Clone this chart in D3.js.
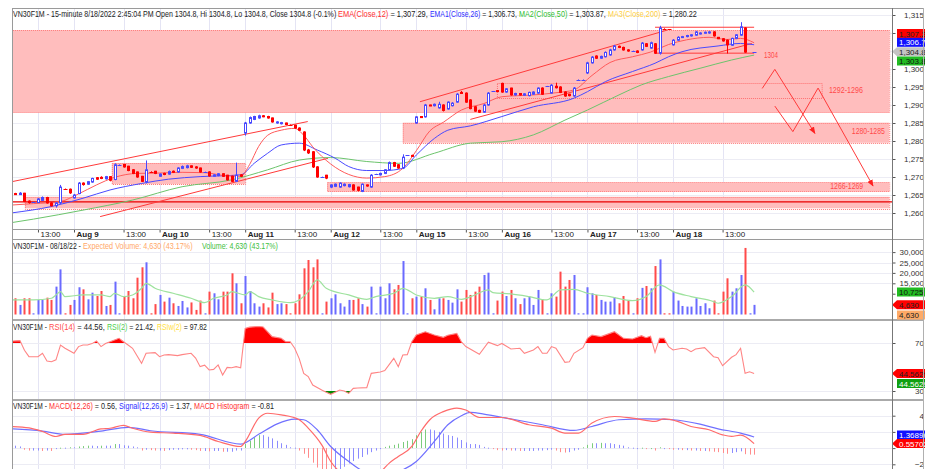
<!DOCTYPE html>
<html><head><meta charset="utf-8">
<script src="https://cdn.jsdelivr.net/npm/d3@7"></script>
<style>
html,body{margin:0;padding:0;background:#fff;overflow:hidden;}
svg{display:block;font-family:"Liberation Sans",Arial,sans-serif;}
</style></head><body>
<svg id="c" width="930" height="469"></svg>
<script>
// ---------------- DATA ----------------
const symbol = "VN30F1M";
const days = ["Aug 8","Aug 9","Aug 10","Aug 11","Aug 12","Aug 15","Aug 16","Aug 17","Aug 18"];
const barsPerDay = 19;
const sessionLabel = "13:00";
const sessionSlot = 11;
const firstSlot = 5;

// [open, high, low, close] per 15-minute slot, from slot 5 (Aug 8) to slot 170 (Aug 18 14:45)
const ohlc = [
 // Aug 8
 [1265.0,1265.6,1264.8,1265.4],[1265.4,1265.6,1265.0,1265.1],[1265.1,1265.8,1265.0,1265.5],[1265.5,1265.6,1263.0,1263.2],
 [1263.3,1263.5,1262.6,1262.9],[1263.0,1263.1,1262.9,1263.0],[1262.9,1264.2,1262.8,1263.9],[1263.5,1264.6,1263.4,1264.3],
 [1264.3,1264.5,1262.6,1262.8],[1262.8,1263.0,1261.8,1262.0],[1262.0,1263.0,1261.5,1262.8],[1262.8,1267.8,1262.5,1267.2],
 [1266.6,1266.8,1266.5,1266.6],[1266.6,1266.8,1265.3,1265.6],
 // Aug 9
 [1264.2,1265.3,1264.0,1265.0],[1265.4,1268.6,1265.2,1268.3],[1268.3,1268.5,1267.6,1267.9],[1268.0,1268.9,1267.8,1268.7],
 [1268.6,1269.8,1268.4,1269.6],[1269.8,1270.0,1269.2,1269.4],[1269.9,1270.2,1269.4,1269.6],[1269.5,1270.3,1269.3,1270.1],
 [1270.1,1270.2,1268.8,1269.1],[1269.3,1273.8,1269.1,1273.4],[1273.4,1273.5,1273.3,1273.4],[1273.5,1273.6,1272.6,1272.8],
 [1273.0,1273.1,1271.6,1271.8],[1272.0,1272.2,1270.8,1271.0],[1271.4,1271.5,1269.8,1270.0],[1270.2,1270.3,1268.6,1268.8],
 [1268.6,1274.6,1268.2,1272.0],[1271.5,1271.6,1271.4,1271.5],[1271.6,1271.7,1270.8,1271.0],
 // Aug 10
 [1270.2,1271.0,1270.0,1270.8],[1271.0,1271.2,1270.5,1270.7],[1270.8,1271.8,1270.6,1271.5],[1271.6,1271.8,1271.1,1271.3],
 [1271.4,1272.7,1271.2,1272.5],[1272.4,1273.2,1272.2,1272.9],[1272.6,1273.4,1272.4,1273.1],[1273.1,1273.2,1272.5,1272.7],
 [1272.8,1273.0,1272.3,1272.5],[1272.5,1272.6,1271.2,1271.4],[1271.4,1271.5,1271.3,1271.4],[1271.4,1271.6,1270.1,1270.3],
 [1270.2,1270.8,1270.0,1270.6],[1270.4,1271.1,1270.2,1270.9],[1270.9,1271.0,1270.0,1270.2],[1270.5,1270.6,1269.0,1269.2],
 [1270.2,1270.4,1268.6,1268.8],[1268.8,1274.0,1268.6,1270.5],[1270.6,1270.8,1270.0,1270.2],
 // Aug 11
 [1282.2,1285.3,1281.5,1285.0],[1285.0,1286.8,1284.8,1286.5],[1286.0,1287.0,1285.8,1286.8],[1286.4,1287.3,1286.2,1287.0],
 [1287.0,1287.2,1286.6,1286.8],[1286.8,1287.0,1286.2,1286.4],[1286.4,1286.5,1285.1,1285.3],[1285.0,1285.5,1284.8,1285.3],
 [1284.8,1285.3,1284.6,1285.1],[1285.0,1285.1,1284.4,1284.6],[1284.5,1284.6,1284.4,1284.5],[1284.4,1284.5,1283.4,1283.6],
 [1283.6,1283.8,1282.8,1283.0],[1282.5,1282.7,1277.2,1277.5],[1277.5,1277.8,1276.4,1276.7],[1277.0,1277.2,1272.5,1272.8],
 [1272.8,1273.0,1269.8,1270.0],[1270.0,1270.1,1269.9,1270.0],[1270.5,1270.6,1269.4,1269.7],
 // Aug 12
 [1267.2,1268.0,1266.9,1267.8],[1267.4,1268.2,1267.2,1268.0],[1267.2,1268.5,1267.0,1268.3],[1267.6,1268.2,1267.4,1268.0],
 [1267.3,1268.1,1267.1,1267.9],[1267.8,1268.0,1266.2,1266.4],[1267.2,1267.3,1266.0,1266.3],[1266.0,1268.2,1265.8,1268.0],
 [1267.8,1267.9,1267.3,1267.5],[1267.2,1270.8,1267.0,1270.5],[1270.8,1270.9,1270.7,1270.8],[1270.6,1271.2,1270.4,1271.0],
 [1271.0,1272.2,1270.8,1272.0],[1272.0,1274.3,1271.8,1274.0],[1274.0,1274.2,1272.8,1273.0],[1273.4,1273.6,1272.3,1272.5],
 [1272.5,1276.3,1272.2,1275.5],[1276.0,1276.1,1275.9,1276.0],[1276.0,1276.2,1275.6,1275.8],
 // Aug 15
 [1285.0,1286.9,1284.8,1286.7],[1286.8,1286.9,1286.4,1286.5],[1286.7,1290.3,1286.5,1290.0],[1290.0,1290.1,1289.7,1289.8],
 [1289.8,1290.4,1289.6,1290.2],[1289.2,1290.9,1289.0,1290.2],[1290.0,1290.2,1288.2,1288.5],[1288.9,1291.0,1288.7,1290.8],
 [1289.8,1290.8,1289.6,1290.5],[1290.8,1293.3,1290.6,1293.0],[1293.5,1293.9,1293.1,1293.2],[1293.3,1293.5,1290.6,1290.8],
 [1291.4,1291.6,1288.8,1289.0],[1289.5,1289.7,1288.1,1288.3],[1288.5,1288.7,1287.8,1288.0],[1288.0,1290.3,1287.8,1290.0],
 [1290.0,1293.6,1289.8,1293.3],[1293.8,1293.9,1293.7,1293.8],[1294.0,1294.1,1293.6,1293.8],
 // Aug 16
 [1296.0,1296.2,1293.4,1293.6],[1293.6,1294.7,1293.4,1294.5],[1294.7,1294.8,1292.6,1292.8],[1292.8,1293.4,1292.6,1293.2],
 [1293.2,1293.3,1292.6,1292.8],[1292.7,1293.3,1292.5,1293.1],[1292.6,1293.7,1292.4,1293.5],[1293.0,1293.8,1292.8,1293.6],
 [1293.3,1294.9,1293.1,1294.7],[1294.7,1294.9,1292.8,1293.0],[1295.2,1295.3,1295.1,1295.2],[1293.3,1295.8,1293.1,1295.5],
 [1295.2,1296.2,1294.6,1294.8],[1295.0,1295.2,1293.3,1293.5],[1293.6,1293.8,1292.3,1292.5],[1293.0,1293.1,1292.4,1292.6],
 [1292.5,1295.0,1292.3,1294.7],[1297.0,1297.1,1296.9,1297.0],[1297.0,1297.1,1296.9,1297.0],
 // Aug 17
 [1298.9,1302.0,1298.6,1301.7],[1301.7,1303.6,1301.5,1303.3],[1303.6,1303.8,1302.8,1303.0],[1303.0,1303.7,1302.8,1303.5],
 [1303.4,1304.9,1303.2,1304.6],[1303.9,1305.6,1303.7,1305.3],[1305.3,1306.7,1305.1,1306.4],[1306.3,1306.5,1305.8,1306.0],
 [1306.0,1306.2,1305.1,1305.3],[1305.3,1305.5,1304.8,1305.0],[1305.0,1305.1,1304.9,1305.0],[1305.0,1305.2,1304.4,1304.6],
 [1305.3,1307.5,1305.1,1307.2],[1307.0,1307.2,1306.1,1306.3],[1305.8,1307.6,1305.6,1307.3],[1307.0,1307.2,1304.2,1304.4],
 [1304.4,1312.0,1304.0,1311.4],[1311.2,1311.3,1311.1,1311.2],[1311.0,1311.1,1310.9,1311.0],
 // Aug 18
 [1306.7,1308.3,1306.5,1308.0],[1308.0,1309.1,1307.8,1308.8],[1308.8,1309.2,1308.6,1309.0],[1309.0,1309.5,1308.8,1309.3],
 [1309.2,1309.7,1309.0,1309.5],[1309.4,1310.6,1309.2,1310.3],[1309.8,1310.2,1309.6,1310.0],[1310.0,1310.4,1309.8,1310.2],
 [1310.0,1310.5,1309.8,1310.3],[1310.3,1310.5,1309.0,1309.2],[1308.8,1308.9,1308.3,1308.4],[1308.4,1308.6,1307.6,1307.8],
 [1308.0,1308.2,1304.3,1306.7],[1306.6,1308.7,1306.4,1308.5],[1308.5,1309.7,1308.3,1309.5],[1309.4,1313.0,1309.2,1311.7],
 [1311.4,1311.6,1304.5,1304.7],null,[1304.8,1304.8,1304.8,1304.8]
];

// volume per slot, from slot 5 to slot 170
const volume = [
 4600,7800,4600,7800,7800,500,7000,7000,8100,7000,13400,21700,500,4600,
 7000,13100,12100,7300,10500,8900,11300,4100,4600,15800,500,8900,11300,7800,17700,22700,25100,500,5000,
 9400,6200,8100,5400,4100,6500,3400,5800,2200,6700,500,11000,10200,7300,11000,11000,19800,15000,5400,
 18500,11300,5400,3800,5400,3400,10500,5000,5400,5000,500,5400,9700,22200,26200,22700,26500,500,6200,
 7800,9700,5400,3800,7000,7000,7800,5000,3800,13400,500,13400,7800,15000,12100,14200,25700,500,7800,
 8600,8600,12600,7000,2500,7800,7800,7000,5700,12100,6200,11800,9400,11000,13400,19000,20100,500,6700,
 11000,8900,11800,7800,5000,7800,8600,4600,11800,7300,500,10200,8600,20600,13400,16600,19000,500,500,
 13100,10200,9400,7000,6200,6200,8300,5400,8900,6700,500,7800,12800,13700,12600,23300,26500,500,500,
 11000,6700,4100,3800,3800,7800,4100,5400,3000,6700,500,11000,17400,11000,12600,19000,32000,300,4630
];

// moving averages: [slot, value]
const ema12 = [[5,1262.2],[10,1262.6],[16,1263.2],[20,1265.3],[24,1267.8],[28,1269.9],[33,1271],[38,1271.1],[43,1271.3],[48,1271.2],[53,1270.3],[56,1270.2],[58,1273.5],[60,1278.5],[62,1281.6],[65,1283],[68,1283.5],[70,1281.6],[72,1278.4],[76,1273.6],[80,1270.7],[84,1269.7],[88,1270.1],[92,1272.4],[95,1277.3],[98,1282.8],[101,1285.2],[105,1288.6],[110,1290.4],[114,1292.3],[121,1292.8],[126,1293.4],[130,1294.2],[134,1298.2],[138,1301.8],[143,1303.4],[147,1304.7],[151,1306.8],[155,1308.1],[160,1308.8],[164,1308.2],[167,1308.5],[170,1307.29]];
const ema26 = [[5,1260],[14,1261.8],[21,1264.1],[27,1266.4],[34,1268.2],[40,1269.4],[47,1270.1],[56,1270.6],[59,1273.8],[62,1276.6],[65,1278.9],[69,1279.4],[73,1277.5],[77,1275.2],[80,1272.9],[84,1271.8],[88,1271.8],[92,1272.4],[95,1276.1],[99,1280.7],[102,1283],[107,1284.2],[114,1286.8],[121,1289.5],[130,1291.9],[133,1293.7],[137,1296.5],[143,1299.3],[148,1301.6],[151,1303.4],[154,1304.8],[162,1306.4],[167,1307.1],[170,1306.73]];
const ma50 = [[5,1257.3],[10,1258.3],[21,1260.8],[32,1263.6],[43,1267.3],[54,1269.2],[62,1272],[69,1274.7],[76,1275.4],[84,1274.3],[91,1273.8],[99,1276.6],[107,1279.4],[114,1279.8],[121,1281.7],[128,1285.8],[133,1288.6],[140,1292.8],[145,1295.6],[151,1297.9],[158,1300.2],[165,1302.5],[170,1303.87]];
const volMA = [[5,7000],[10,7000],[14,7800],[15,9400],[16,11000],[17,8600],[21,9400],[25,9400],[27,8600],[28,10200],[30,8600],[32,9400],[34,12600],[35,15000],[37,12600],[41,10200],[45,7800],[48,5700],[50,7800],[53,9400],[54,11000],[57,9400],[58,11000],[60,8600],[63,7000],[67,5700],[69,7000],[71,11000],[73,16600],[75,12600],[80,9400],[84,7300],[86,8600],[90,10200],[92,12600],[95,9400],[99,7800],[102,8600],[105,7300],[108,9400],[111,11800],[112,10500],[116,9900],[120,8600],[124,7000],[127,11800],[130,12100],[133,10200],[138,8600],[143,6700],[146,8600],[149,14200],[152,11000],[156,8600],[161,6200],[162,5400],[165,8600],[168,14200],[170,10725]];

const rsi14 = [[5,71.5],[7,72],[8,64],[9,58.6],[11,58.6],[12,61.4],[13,55],[14,54.4],[15,56],[16,68.3],[17,65.6],[19,61.4],[20,67],[21,68.3],[22,68.3],[23,69.5],[24,71.7],[25,67],[26,69.5],[28,72.5],[29,73.9],[30,71],[31,68.3],[32,65.6],[34,53],[35,61.4],[37,62],[38,58.6],[39,60],[40,60.3],[42,59.5],[43,60.3],[45,61.4],[46,57.5],[47,50.3],[48,51.5],[49,47.5],[50,48],[51,51.7],[52,43.3],[53,49.7],[54,49.4],[55,50.3],[56,49.4],[57,82.2],[58,83.2],[60,83.8],[61,83.3],[63,75.3],[65,74],[66,71],[67,71],[68,65.6],[69,57],[70,44.7],[71,42],[72,35],[74,30.8],[75,28.9],[76,27.2],[78,30.8],[79,30],[80,28],[81,32.2],[82,32.5],[84,32.8],[85,44.7],[87,45.8],[88,47],[90,57.2],[91,50.3],[92,60],[93,60.3],[94,71],[95,76.7],[97,79.4],[99,76.7],[101,74.7],[102,76.5],[104,78],[105,71],[106,67],[109,60.6],[111,70.6],[113,67.8],[114,69.6],[116,65],[118,65.6],[119,61.4],[121,64.2],[122,67],[123,61.4],[124,61.4],[125,67],[126,65.6],[128,53.9],[129,54.4],[130,61.4],[132,66.1],[133,73.9],[134,76.7],[136,75.3],[139,79.4],[141,73.9],[143,73.3],[145,76.1],[146,74.4],[147,75.6],[148,62.2],[149,73.9],[150,73.9],[151,67],[152,64.2],[154,65.6],[155,65],[156,62.8],[157,65],[159,66.1],[161,58.6],[162,57.8],[163,51.1],[165,58.1],[166,60.3],[167,65.6],[168,44.7],[169,46],[170,44.56]];

const macdLine = [[5,2.67],[9,2.5],[12,2.05],[15,1.43],[17,1.7],[21,1.7],[25,2.38],[27,2.45],[30,2.8],[32,2.45],[36,1.97],[41,1.85],[47,1.56],[51,0.82],[56,0.2],[57,0.8],[60,3.7],[62,4.3],[65,4.1],[69,3.5],[71,2.47],[74,0.4],[76,-1.65],[78,-2.9],[80,-3.4],[84,-3.3],[87,-2.9],[89,-1.85],[91,-1.03],[94,0.2],[96,2.05],[98,3.5],[101,4.5],[104,4.94],[106,4.7],[109,3.78],[114,3.78],[120,2.88],[125,2.47],[128,1.85],[131,1.85],[134,3.09],[139,3.9],[143,3.7],[148,3.3],[150,3.6],[153,3.3],[156,2.67],[160,2.26],[163,1.64],[165,1.44],[167,1.6],[170,0.56]];
const signalLine = [[5,2.38],[12,2.1],[17,1.7],[25,2.1],[31,2.57],[36,2.14],[47,1.7],[56,0.49],[60,1.7],[64,2.96],[68,3.58],[70,3.5],[73,2.26],[76,0.2],[80,-1.65],[84,-3.05],[87,-3.3],[91,-2.9],[95,-1.65],[99,0.82],[102,2.88],[105,4.0],[107,4.4],[110,4.2],[112,4.0],[114,3.8],[123,2.88],[130,2.18],[134,2.67],[140,3.5],[146,3.6],[152,3.5],[158,2.96],[162,2.38],[167,1.85],[170,1.37]];
// MACD histogram per slot, from slot 5
const macdHist = [
 0.3,0.3,0.2,-0.2,-0.3,-0.3,-0.3,-0.35,-0.3,-0.35,-0.1,0.05,0.05,0.1,
 0.1,0.2,0.25,0.3,0.3,0.25,0.3,0.3,0.3,0.5,0.5,0.35,0.3,0.2,0.1,-0.3,-0.2,-0.25,-0.3,
 -0.3,-0.35,-0.25,-0.2,-0.2,-0.15,-0.15,-0.2,-0.25,-0.35,-0.35,-0.4,-0.35,-0.35,-0.45,-0.45,-0.45,-0.3,-0.3,
 0.5,0.9,1.3,1.6,1.6,1.4,1.2,0.9,0.6,0.4,0.1,0.05,-0.3,-0.7,-1.2,-1.8,-2.4,-2.9,-3.2,
 -3.3,-3.1,-2.8,-2.3,-1.9,-1.6,-1.3,-1.1,-0.8,-0.5,-0.3,-0.1,0.15,0.3,0.4,0.55,0.75,0.9,1.1,
 1.6,2.0,2.3,2.3,2.2,2.0,1.8,1.6,1.5,1.3,1.0,0.7,0.5,0.5,0.4,0.15,0.05,-0.1,-0.25,
 -0.3,-0.25,-0.3,-0.3,-0.35,-0.35,-0.35,-0.35,-0.3,-0.3,-0.25,-0.2,-0.3,-0.5,-0.55,-0.5,-0.3,-0.2,0.1,
 0.4,0.6,0.6,0.65,0.6,0.6,0.5,0.4,0.3,0.1,0.05,0,0.05,-0.05,0,-0.3,0.1,0,-0.1,
 -0.2,-0.2,-0.25,-0.25,-0.3,-0.3,-0.35,-0.35,-0.4,-0.45,-0.5,-0.6,-0.7,-0.6,-0.5,-0.4,-0.75,-0.8,-0.81
];

// drawn annotations (slot, price)
const zones = [
 {from:0, to:200, lo:1287.9, hi:1310.8},
 {from:92, to:200, lo:1279.5, hi:1285.1},
 {from:27.4, to:57, lo:1268.0, hi:1273.9},
 {from:75.2, to:200, lo:1265.9, hi:1268.5},
 {from:8.1, to:200, lo:1261.3, hi:1264.5}
];
const outlineZone = {from:112.9, to:185, lo:1291.9, hi:1296.0};
const supportLevel = 1263.1;
const trendLines = [
 [[5.2,1268.7],[70.9,1285.4]],
 [[24.8,1259.0],[75.4,1275.2]],
 [[95.8,1290.9],[150.7,1310.8]],
 [[107,1286.0],[169.5,1307.1]],
 [[148,1311.6],[170,1311.6]],
 [[148,1304.4],[170,1304.4]]
];
const arrowPaths = [
 [[171.8,1294.6],[174.6,1299.9],[183.5,1282.1]],
 [[174.6,1289.7],[178.6,1282.6],[184.2,1294.7],[196.4,1267.5]]
];
const zoneLabels = [
 {text:"1292-1296", s:186.6, p:1294.2, w:34},
 {text:"1280-1285", s:191.7, p:1282.8, w:33},
 {text:"1266-1269", s:186.9, p:1267.5, w:33},
 {text:"1304", s:172.2, p:1304.0, w:14}
];

const priceTicks = [1260,1265,1270,1275,1280,1285,1290,1295,1300,1305,1310,1315];
const volTicks = [5000,10000,15000,20000,25000,30000];
const rsiTicks = [30,70];
const macdTicks = [-2,0,2,4];

const last = {price:1304.8, ema12:1307.29, ema26:1306.73, ma50:1303.87, ma200:1280.22,
  vol:4630, volMA:10725, rsi:44.5629, rsi2:21.42, rsiw:97.82, macd:0.55702, signal:1.36896, hist:-0.81};

// ---------------- DRAW ----------------
const svg = d3.select("#c");
const defs = svg.append("defs");
function clip(id,x0,y0,x1,y1){defs.append("clipPath").attr("id",id).append("rect").attr("x",x0).attr("y",y0).attr("width",x1-x0).attr("height",y1-y0);}
clip("cm",13,9,892,229);
clip("cv",13,240,892,319);
clip("cr",13,321,892,399);
clip("cd",13,401,892,469);
clip("ca",893,0,925,469);
clip("cx",13,230,892,239);
defs.append("marker").attr("id","ah").attr("viewBox","0 0 10 10").attr("refX",9).attr("refY",5)
  .attr("markerWidth",7).attr("markerHeight",7).attr("orient","auto")
  .append("path").attr("d","M0,1L10,5L0,9z").attr("fill","#ff2020");

svg.append("rect").attr("width",930).attr("height",469).attr("fill","#fff");

const nSlots = days.length*barsPerDay;
const x = d3.scaleLinear().domain([0,nSlots]).range([-11.57,-11.57+4.504*nSlots]);
const yP = d3.scaleLinear().domain([1260,1315]).range([213,15]);
const yV = d3.scaleLinear().domain([0,30000]).range([314.5,252.1]);
const yR = d3.scaleLinear().domain([30,70]).range([391,343]);
const yM = d3.scaleLinear().domain([-2,4]).range([464.3,415.7]);

const gridSlots = [];
days.forEach((d,i)=>{gridSlots.push(i*barsPerDay); gridSlots.push(i*barsPerDay+sessionSlot);});
const panes = [["cm",9,229,yP,priceTicks],["cv",240,319,yV,volTicks.slice(2)],["cr",321,399,yR,rsiTicks],["cd",401,469,yM,macdTicks]];
panes.forEach(([id,t,b,sc,ticks])=>{
  const g = svg.append("g").attr("clip-path",`url(#${id})`);
  g.selectAll("line.v").data(gridSlots).join("line")
    .attr("x1",s=>Math.round(x(s))+0.5).attr("x2",s=>Math.round(x(s))+0.5).attr("y1",t).attr("y2",b)
    .attr("stroke","#e4e4f4").attr("stroke-width",1);
  g.selectAll("line.h").data(ticks).join("line")
    .attr("x1",12).attr("x2",892).attr("y1",v=>Math.round(sc(v))+0.5).attr("y2",v=>Math.round(sc(v))+0.5)
    .attr("stroke","#ececf4").attr("stroke-width",1);
});

// condensed text helper (the reference uses a narrow UI font)
function ctext(g, x0, y0, parts, width, size){
  const gg = g.append("g").attr("transform",`translate(${x0},${y0})`);
  const t = gg.append("text").attr("font-size",size||"8.5px");
  parts.forEach(([s,c])=>t.append("tspan").attr("fill",c).text(s));
  const w = t.node().getComputedTextLength();
  t.attr("transform",`scale(${width/w},1)`);
  return gg;
}
// header made of segments, each segment squeezed to its measured extent
function header(y, segs){
  segs.forEach(([x0,x1,parts])=>ctext(svg,x0,y,parts,x1-x0));
}

// ---- main pane ----
const gm = svg.append("g").attr("clip-path","url(#cm)");
zones.forEach(z=>{
  const x0=x(z.from), x1=x(z.to), y0=yP(z.hi), y1=yP(z.lo);
  gm.append("rect").attr("x",x0).attr("y",y0).attr("width",x1-x0).attr("height",y1-y0).attr("fill","#ffbdbd");
  gm.append("rect").attr("x",x0+0.5).attr("y",Math.round(y0)+0.5).attr("width",x1-x0).attr("height",Math.round(y1-y0))
    .attr("fill","none").attr("stroke","#ff7a7a").attr("stroke-width",1).attr("stroke-dasharray","1,1");
});
{
  const z=outlineZone, x0=x(z.from), x1=x(z.to), y0=yP(z.hi), y1=yP(z.lo);
  gm.append("rect").attr("x",x0+0.5).attr("y",Math.round(y0)+0.5).attr("width",x1-x0).attr("height",Math.round(y1-y0))
    .attr("fill","none").attr("stroke","#ff7070").attr("stroke-width",1).attr("stroke-dasharray","1,1");
}
gm.append("line").attr("x1",12).attr("x2",892).attr("y1",yP(supportLevel)).attr("y2",yP(supportLevel))
  .attr("stroke","#e80000").attr("stroke-width",1.4);
const lineP = d3.line().x(d=>x(d[0])).y(d=>yP(d[1]));
trendLines.forEach(t=>gm.append("path").attr("d",lineP(t)).attr("fill","none").attr("stroke","#ff3a3a").attr("stroke-width",1));
arrowPaths.forEach(t=>gm.append("path").attr("d",lineP(t)).attr("fill","none").attr("stroke","#ff3a3a").attr("stroke-width",1).attr("marker-end","url(#ah)"));
const curveP = d3.line().x(d=>x(d[0])).y(d=>yP(d[1])).curve(d3.curveMonotoneX);
gm.append("path").attr("d",curveP(ma50)).attr("fill","none").attr("stroke","#6cc46c").attr("stroke-width",1);
gm.append("path").attr("d",curveP(ema26)).attr("fill","none").attr("stroke","#4a4aff").attr("stroke-width",1);
gm.append("path").attr("d",curveP(ema12)).attr("fill","none").attr("stroke","#ff5a5a").attr("stroke-width",1);

const bars = [];
ohlc.forEach((d,i)=>{ if(d) bars.push({s:firstSlot+i,o:d[0],h:d[1],l:d[2],c:d[3]}); });
let prevC = null;
const upBySlot = {};
bars.forEach(b=>{ b.up = b.c>b.o ? true : (b.c<b.o ? false : (prevC===null || b.c>=prevC)); prevC=b.c; upBySlot[b.s]=b.up; });
const BLUE="#4848ff", RED="#ff0000";
bars.forEach(b=>{
  const cx = Math.round(x(b.s))+0.5;
  const col = b.up?BLUE:RED;
  gm.append("line").attr("x1",cx).attr("x2",cx).attr("y1",yP(b.h)).attr("y2",yP(b.l)).attr("stroke",col).attr("stroke-width",1);
  if(b.o===b.c){
    const yy=Math.round(yP(b.c))+0.5;
    gm.append("line").attr("x1",cx-2).attr("x2",cx+2).attr("y1",yy).attr("y2",yy).attr("stroke",col);
  } else {
    const yt=yP(Math.max(b.o,b.c)), yb=yP(Math.min(b.o,b.c));
    gm.append("rect").attr("x",cx-1).attr("y",yt).attr("width",2).attr("height",Math.max(1,yb-yt))
      .attr("fill",b.c>b.o?"#fff":RED).attr("stroke",col).attr("stroke-width",1);
  }
});
zoneLabels.forEach(l=>ctext(gm, x(l.s), yP(l.p)+3, [[l.text,"#ff4a4a"]], l.w, "8.5px"));

// ---- volume pane ----
const gv = svg.append("g").attr("clip-path","url(#cv)");
volume.forEach((v,i)=>{
  const s=firstSlot+i; const up = upBySlot[s]!==undefined?upBySlot[s]:true;
  const yt=Math.min(yV(v), yV(0)-1.2);
  gv.append("rect").attr("x",Math.round(x(s))-0.5).attr("y",yt).attr("width",2).attr("height",yV(0)-yt)
    .attr("fill",up?"#6a6aff":"#ff4a4a");
});
gv.append("path").attr("d",d3.line().x(d=>x(d[0])).y(d=>yV(d[1])).curve(d3.curveMonotoneX)(volMA))
  .attr("fill","none").attr("stroke","#9ee29e").attr("stroke-width",1.2);

// ---- RSI pane ----
const gr = svg.append("g").attr("clip-path","url(#cr)");
clip("rAbove",13,321,892,yR(70));
clip("rBelow",13,yR(30),892,399);
gr.append("g").attr("clip-path","url(#rAbove)").append("path")
  .attr("d",d3.area().x(d=>x(d[0])).y0(yR(70)).y1(d=>yR(d[1]))(rsi14)).attr("fill","#ff0000");
gr.append("g").attr("clip-path","url(#rBelow)").append("path")
  .attr("d",d3.area().x(d=>x(d[0])).y0(yR(30)).y1(d=>yR(d[1]))(rsi14)).attr("fill","#008a00");
gr.append("path").attr("d",d3.line().x(d=>x(d[0])).y(d=>yR(d[1]))(rsi14)).attr("fill","none").attr("stroke","#ff8585").attr("stroke-width",1.1);

// ---- MACD pane ----
const gd = svg.append("g").attr("clip-path","url(#cd)");
macdHist.forEach((v,i)=>{
  const s=firstSlot+i, prev = i>0?macdHist[i-1]:v;
  const col = v>=0 ? (v>prev?"#7ccc7c":"#8c8cff") : (v<prev?"#ff8c8c":"#8c8cff");
  const y0=yM(0), y1=yM(v);
  gd.append("rect").attr("x",Math.round(x(s))).attr("y",Math.min(y0,y1)).attr("width",1).attr("height",Math.max(1,Math.abs(y1-y0))).attr("fill",col);
});
const lineM = d3.line().x(d=>x(d[0])).y(d=>yM(d[1])).curve(d3.curveMonotoneX);
gd.append("path").attr("d",lineM(signalLine)).attr("fill","none").attr("stroke","#7070ff").attr("stroke-width",1.2);
gd.append("path").attr("d",lineM(macdLine)).attr("fill","none").attr("stroke","#ff6a6a").attr("stroke-width",1.2);

// ---- headers ----
const K="#222", fmt2=d3.format(",.2f"), fmtI=d3.format(",");
header(17,[
  [13,337,[[`${symbol} - 15-minute 8/18/2022 2:45:04 PM Open ${last.price}, Hi ${last.price}, Lo ${last.price}, Close ${last.price} (-0.1%)`,K]]],
  [338,428,[["EMA(Close,12)","#ff3030"],[` = ${fmt2(last.ema12)},`,K]]],
  [430,517,[["EMA1(Close,26)","#3030ff"],[` = ${fmt2(last.ema26)},`,K]]],
  [519,606,[["MA2(Close,50)","#30c030"],[` = ${fmt2(last.ma50)},`,K]]],
  [608,697,[["MA3(Close,200)","#ffd040"],[` = ${fmt2(last.ma200)}`,K]]]
]);
header(249,[
  [13,81,[[`${symbol} - 08/18/22 -`,K]]],
  [83,193,[[`Expected Volume: ${fmtI(last.vol)} (43.17%)`,"#ffa868"]]],
  [202,278,[[`Volume: ${fmtI(last.vol)} (43.17%)`,"#40c040"]]]
]);
header(330,[
  [13,47,[[`${symbol} -`,K]]],
  [49,105,[["RSI(14)","#ff5050"],[` = ${last.rsi.toFixed(2)},`,K]]],
  [107,155,[["RSI(2)","#50d050"],[` = ${last.rsi2},`,K]]],
  [157,207,[["RSIw(2)","#ffe040"],[` = ${last.rsiw}`,K]]]
]);
header(409,[
  [13,47,[[`${symbol} -`,K]]],
  [49,117,[["MACD(12,26)","#ff3030"],[` = ${last.macd.toFixed(2)},`,K]]],
  [119,192,[["Signal(12,26,9)","#3030ff"],[` = ${last.signal.toFixed(2)},`,K]]],
  [194,274,[["MACD Histogram","#ff3030"],[` = ${last.hist}`,K]]]
]);

// ---- x axis ----
const tickSlots = []; days.forEach((d,i)=>{ if(i>0) tickSlots.push(i*barsPerDay); tickSlots.push(i*barsPerDay+sessionSlot); });
tickSlots.sort((a,b)=>a-b);
const gx = svg.append("g").attr("clip-path","url(#cx)").append("g").attr("transform","translate(0,229.5)")
  .call(d3.axisBottom(x).tickValues(tickSlots).tickSize(3).tickFormat(s=>s%barsPerDay===0?days[s/barsPerDay]:sessionLabel));
gx.select(".domain").remove();
gx.selectAll(".tick line").attr("stroke","#555");
gx.selectAll(".tick text").attr("text-anchor","start").attr("x",2).attr("y",2).attr("dy","0.71em")
  .attr("fill","#222").style("font-size","8px").style("font-family","'Liberation Sans',Arial,sans-serif")
  .style("font-weight",s=>s%barsPerDay===0?"bold":"normal");

// ---- frame ----
const F="#9a9a9a";
function hl(y,x0,x1,w,c){svg.append("line").attr("x1",x0).attr("x2",x1).attr("y1",y).attr("y2",y).attr("stroke",c||F).attr("stroke-width",w||1);}
function vl(xx,y0,y1,w,c){svg.append("line").attr("x1",xx).attr("x2",xx).attr("y1",y0).attr("y2",y1).attr("stroke",c||F).attr("stroke-width",w||1);}
hl(8.5,12,924); hl(229.5,12,892); hl(239.5,12,924); hl(320,12,924,2,"#aaa"); hl(400,12,924,2,"#aaa");
vl(12.5,8,469); vl(892.5,8,469,1,"#777");

// ---- right value boxes (positions first, so covered tick labels are skipped) ----
const boxes = [
  {cy:33.5, txt:fmt2(last.ema12), fill:"#ff0000", tc:"#222"},
  {cy:42.3, txt:fmt2(last.ema26), fill:"#1010ff", tc:"#fff"},
  {cy:yP(last.price), txt:d3.format(",.1f")(last.price), fill:"#c4c4c4", tc:"#222", pointer:true},
  {cy:61, txt:fmt2(last.ma50), fill:"#22bb22", tc:"#111"},
  {cy:292, txt:fmtI(last.volMA), fill:"#22bb22", tc:"#111"},
  {cy:yV(last.vol), txt:fmtI(last.vol), fill:"#ff0000", tc:"#222", pointer:true},
  {cy:315, txt:fmtI(last.vol), fill:"#ffaa66", tc:"#222"},
  {cy:yR(last.rsi), txt:last.rsi.toFixed(4), fill:"#ff0000", tc:"#222", pointer:true},
  {cy:383.5, txt:last.rsi.toFixed(4), fill:"#11a011", tc:"#fff"},
  {cy:435, txt:last.signal.toFixed(5), fill:"#1010ff", tc:"#fff"},
  {cy:yM(last.macd), txt:last.macd.toFixed(5), fill:"#ff0000", tc:"#fff", pointer:true}
];
const covered = yy => boxes.some(b=>Math.abs(b.cy-yy)<7.5);

const ga = svg.append("g").attr("clip-path","url(#ca)");
function rAxis(sc,ticks,fmt){
  const g = ga.append("g").attr("transform","translate(892.5,0)")
    .call(d3.axisRight(sc).tickValues(ticks).tickSize(3).tickFormat(v=>covered(sc(v))?"":fmt(v)));
  g.select(".domain").remove();
  g.selectAll(".tick line").attr("stroke","#555");
  g.selectAll(".tick text").attr("text-anchor","end").attr("x",31.5).attr("fill","#333")
    .style("font-size","8px").style("font-family","'Liberation Sans',Arial,sans-serif");
}
rAxis(yP,priceTicks,d3.format(","));
rAxis(yV,volTicks,d3.format(","));
rAxis(yR,rsiTicks,d3.format("d"));
rAxis(yM,macdTicks,d3.format("d"));

boxes.forEach(b=>{
  const h=9, cy=b.cy;
  if(b.pointer){
    ga.append("path").attr("d",`M892,${cy}L897,${cy-h/2}L925,${cy-h/2}L925,${cy+h/2}L897,${cy+h/2}Z`).attr("fill",b.fill);
  } else {
    ga.append("rect").attr("x",897).attr("y",cy-h/2).attr("width",28).attr("height",h).attr("fill",b.fill);
  }
  ga.append("text").attr("x",899).attr("y",cy+3).attr("fill",b.tc).style("font-size","8px").text(b.txt);
});
vl(923.5,8,469,1,"#b0b0b0");
</script></body></html>
